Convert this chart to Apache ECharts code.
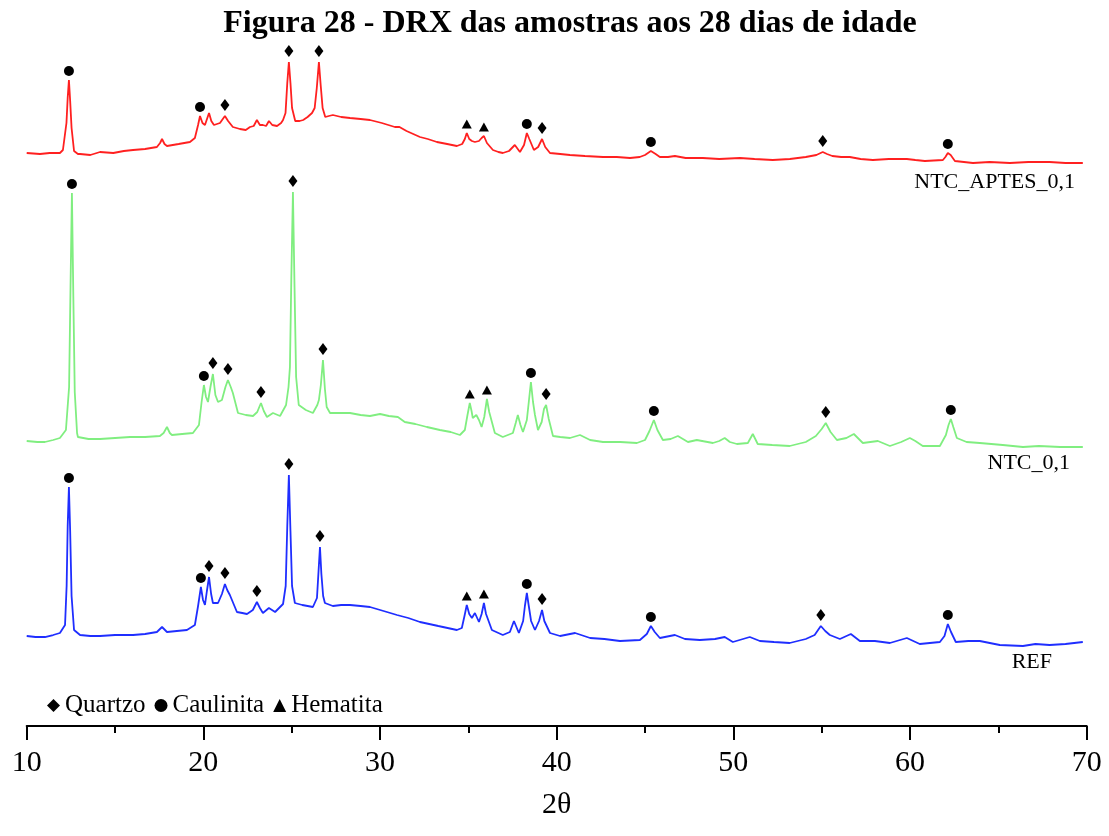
<!DOCTYPE html>
<html>
<head>
<meta charset="utf-8">
<title>DRX 28 dias</title>
<script src="https://cdn.jsdelivr.net/npm/echarts@6/dist/echarts.min.js"></script>
<style>
  html, body { margin: 0; padding: 0; background: #ffffff; }
  #chart { width: 1109px; height: 836px; }
</style>
</head>
<body>
<div id="chart"></div>
<script>
// Diffractograms: [2θ, intensity (a.u.)], each pattern read from its own baseline
const refPattern = [[10.0,10],[10.5,9],[11.03,9],[11.5,11],[11.88,13],[12.17,21],[12.26,60],[12.32,120],[12.39,159],[12.46,115],[12.54,50],[12.68,16],[13.02,11],[13.6,10],[14.15,10],[15.0,11],[16.02,11],[16.7,12],[17.37,14],[17.66,19],[17.94,14],[18.5,15],[19.07,16],[19.52,21],[19.7,40],[19.86,59],[19.98,46],[20.09,41],[20.2,55],[20.32,69],[20.44,52],[20.54,43],[20.83,43],[21.05,52],[21.22,62],[21.35,56],[21.5,51],[21.9,34],[22.2,33],[22.47,32],[22.8,36],[23.03,44],[23.2,38],[23.37,33],[23.71,38],[24.06,34],[24.51,42],[24.66,60],[24.75,120],[24.84,171],[24.93,115],[25.02,60],[25.18,43],[25.6,41],[26.2,39],[26.43,48],[26.52,75],[26.6,99],[26.68,72],[26.78,50],[26.88,43],[27.33,40],[27.8,41],[28.3,41],[28.9,40],[29.43,39],[30.2,35],[30.96,31],[31.6,28],[32.26,24],[33.3,20],[34.35,16],[34.63,18],[34.78,30],[34.91,41],[35.05,32],[35.2,28],[35.37,33],[35.6,24],[35.75,32],[35.88,43],[36.0,32],[36.33,16],[36.95,11],[37.35,14],[37.58,25],[37.86,13],[38.1,25],[38.2,40],[38.31,53],[38.42,40],[38.55,25],[38.77,16],[39.0,25],[39.17,36],[39.3,25],[39.62,13],[40.19,10],[41.04,13],[41.89,8],[42.7,7],[43.58,5],[44.71,6],[45.1,12],[45.33,20],[45.55,14],[45.84,8],[46.69,11],[47.26,7],[48.1,6],[48.96,7],[49.51,9],[49.97,4],[50.93,9],[51.5,5],[52.3,4],[53.19,3],[54.1,7],[54.6,11],[54.95,20],[55.2,15],[55.46,11],[56.03,7],[56.65,12],[57.16,5],[58.01,5],[58.86,3],[59.82,8],[60.55,2],[61.69,4],[61.95,10],[62.14,22],[62.32,14],[62.59,4],[63.3,5],[63.95,5],[65.08,1],[66.39,0],[67.1,2],[67.9,1],[68.8,2],[69.78,4]];

const ntcPattern = [[10.0,6],[10.6,5],[11.03,5],[11.5,7],[11.88,9],[12.22,17],[12.4,60],[12.48,160],[12.56,254],[12.64,150],[12.72,55],[12.85,14],[12.9,10],[13.5,8],[14.15,8],[15.0,9],[15.85,10],[16.7,10],[17.54,11],[17.75,14],[17.94,20],[18.1,14],[18.22,12],[18.8,13],[19.41,14],[19.75,22],[19.9,45],[20.03,62],[20.15,50],[20.26,45],[20.4,60],[20.54,73],[20.68,52],[20.83,45],[21.05,47],[21.25,60],[21.39,67],[21.55,60],[21.67,54],[21.96,34],[22.4,32],[22.81,31],[23.05,35],[23.26,44],[23.42,36],[23.6,30],[23.94,34],[24.34,31],[24.68,42],[24.82,60],[24.9,80],[24.98,170],[25.07,255],[25.16,160],[25.25,70],[25.4,42],[25.47,40],[25.8,37],[26.2,34],[26.45,42],[26.54,47],[26.65,62],[26.77,87],[26.88,58],[26.98,40],[27.17,34],[27.7,34],[28.3,34],[28.9,32],[29.43,31],[30.0,33],[30.5,31],[31.01,30],[31.4,25],[32.0,23],[32.65,20],[33.39,17],[34.0,15],[34.52,12],[34.8,17],[34.95,32],[35.08,44],[35.18,36],[35.25,29],[35.45,32],[35.6,27],[35.75,20],[35.9,30],[36.05,48],[36.18,35],[36.5,14],[36.95,10],[37.52,14],[37.68,24],[37.8,32],[37.95,22],[38.09,15],[38.31,27],[38.42,45],[38.54,65],[38.66,45],[38.77,32],[38.94,17],[39.15,25],[39.28,38],[39.4,42],[39.55,28],[39.79,11],[40.2,10],[40.75,9],[41.32,12],[41.89,7],[42.62,5],[43.6,5],[44.54,4],[45.0,7],[45.25,16],[45.5,27],[45.7,17],[46.01,7],[46.45,8],[46.86,11],[47.43,5],[47.93,7],[48.84,4],[49.2,6],[49.51,9],[49.8,5],[50.2,3],[50.82,4],[51.1,13],[51.38,3],[52.2,2],[53.19,1],[54.1,5],[54.67,11],[55.0,18],[55.23,24],[55.5,15],[55.86,7],[56.4,9],[56.82,13],[57.33,4],[57.75,5],[58.18,6],[58.86,1],[59.5,5],[59.99,9],[60.3,6],[60.72,1],[61.69,1],[62.03,12],[62.18,22],[62.31,28],[62.45,20],[62.65,9],[63.2,5],[63.95,4],[64.6,3],[65.25,2],[66.39,0],[67.3,1],[68.5,0],[69.78,0]];

const aptesPattern = [[10.0,10],[10.75,9],[11.3,10],[11.88,10],[12.05,13],[12.25,40],[12.32,65],[12.39,83],[12.46,62],[12.54,35],[12.68,12],[12.9,9],[13.02,9],[13.6,8],[14.15,11],[14.9,10],[15.5,12],[16.02,13],[16.7,14],[17.37,16],[17.55,20],[17.66,24],[17.8,19],[17.94,17],[18.6,19],[19.24,21],[19.52,25],[19.7,38],[19.81,47],[19.95,40],[20.09,38],[20.32,50],[20.45,42],[20.6,38],[20.94,40],[21.22,47],[21.4,42],[21.67,36],[22.07,34],[22.4,33],[22.64,36],[22.85,37],[23.03,43],[23.2,38],[23.37,38],[23.55,37],[23.71,42],[23.9,38],[24.17,37],[24.4,40],[24.51,43],[24.65,50],[24.75,80],[24.84,101],[24.93,80],[25.02,55],[25.2,42],[25.45,42],[25.65,43],[25.9,46],[26.15,50],[26.3,55],[26.42,75],[26.54,101],[26.64,78],[26.75,55],[26.9,46],[27.1,47],[27.33,48],[27.8,46],[28.3,45],[28.9,44],[29.43,43],[30.1,40],[30.84,36],[31.1,36],[31.5,32],[32.26,26],[32.7,24],[33.22,21],[33.8,19],[34.35,17],[34.65,19],[34.8,24],[34.91,30],[35.05,24],[35.2,22],[35.37,21],[35.6,22],[35.75,25],[35.88,27],[36.05,20],[36.39,13],[36.7,11],[36.95,10],[37.3,12],[37.63,18],[37.92,11],[38.15,18],[38.31,30],[38.45,24],[38.71,13],[38.95,16],[39.17,24],[39.35,16],[39.62,10],[40.2,9],[40.75,8],[41.6,7],[42.62,6],[43.4,6],[44.15,5],[44.7,6],[45.0,8],[45.33,12],[45.6,9],[45.84,6],[46.3,6],[46.69,7],[47.3,5],[48.27,5],[49.2,4],[50.37,5],[51.2,4],[52.23,3],[53.2,4],[54.1,6],[54.7,8],[55.06,11],[55.3,9],[55.6,7],[56.1,6],[56.59,6],[57.2,4],[57.9,3],[58.8,4],[59.82,4],[60.3,3],[60.84,2],[61.86,3],[62.0,6],[62.14,10],[62.3,8],[62.54,2],[63.56,0],[64.5,1],[65.65,0],[66.7,1],[67.9,1],[68.8,0],[69.78,0]];

// Identified phases per pattern: [2θ, phase] (Q = Quartzo, C = Caulinita, H = Hematita)
const refPeaks = [[12.39,'C'],[19.86,'C'],[20.32,'Q'],[21.22,'Q'],[23.03,'Q'],[24.84,'Q'],[26.6,'Q'],[34.91,'H'],[35.88,'H'],[38.31,'C'],[39.17,'Q'],[45.33,'C'],[54.95,'Q'],[62.14,'C']];
const ntcPeaks = [[12.56,'C'],[20.03,'C'],[20.54,'Q'],[21.39,'Q'],[23.26,'Q'],[25.07,'Q'],[26.77,'Q'],[35.08,'H'],[36.05,'H'],[38.54,'C'],[39.4,'Q'],[45.5,'C'],[55.23,'Q'],[62.31,'C']];
const aptesPeaks = [[12.39,'C'],[19.81,'C'],[21.22,'Q'],[24.84,'Q'],[26.54,'Q'],[34.91,'H'],[35.88,'H'],[38.31,'C'],[39.17,'Q'],[45.33,'C'],[55.06,'Q'],[62.14,'C']];

const sampleNames = ['REF', 'NTC_0,1', 'NTC_APTES_0,1'];
const sampleOffsets = [80, 279, 563];          // vertical stacking of the patterns
const sampleColors = ['#1f2eff', '#80ee80', '#ff2020'];
const phaseNames = { Q: 'Quartzo', C: 'Caulinita', H: 'Hematita' };
const xTicks = [10, 20, 30, 40, 50, 60, 70];

const patterns = [refPattern, ntcPattern, aptesPattern];
const peaks = [refPeaks, ntcPeaks, aptesPeaks];

const SERIF = "'Liberation Serif', 'Times New Roman', 'DejaVu Serif', serif";
const phaseSymbol = {
  Q: { symbol: 'diamond', size: [9, 12], gap: 11 },
  C: { symbol: 'circle', size: 10, gap: 9 },
  H: { symbol: 'triangle', size: [10, 9], gap: 9 }
};

// local maximum of a pattern around a given 2θ
function peakHeight(pattern, theta) {
  let best = -Infinity;
  pattern.forEach(([t, v]) => { if (Math.abs(t - theta) <= 0.15 && v > best) best = v; });
  return best;
}

const lineSeries = patterns.map((p, i) => ({
  name: sampleNames[i],
  type: 'line',
  data: p.map(([t, v]) => [t, v + sampleOffsets[i]]),
  showSymbol: false,
  symbol: 'none',
  smooth: false,
  lineStyle: { color: sampleColors[i], width: 1.8 },
  itemStyle: { color: sampleColors[i] },
  silent: true,
  z: 2
}));

const markerSeries = ['Q', 'C', 'H'].map(code => {
  const data = [];
  peaks.forEach((list, i) => {
    list.forEach(([t, ph]) => {
      if (ph !== code) return;
      const h = peakHeight(patterns[i], t);
      data.push([t, h + sampleOffsets[i] + phaseSymbol[code].gap]);
    });
  });
  return {
    name: phaseNames[code],
    type: 'scatter',
    data: data,
    symbol: phaseSymbol[code].symbol,
    symbolSize: phaseSymbol[code].size,
    itemStyle: { color: '#000000', opacity: 1 },
    silent: true,
    z: 3
  };
});

const chart = echarts.init(document.getElementById('chart'), null, { renderer: 'canvas' });

chart.setOption({
  backgroundColor: '#ffffff',
  animation: false,
  title: {
    text: 'Figura 28 - DRX das amostras aos 28 dias de idade',
    left: 565,
    textAlign: 'center',
    top: 3,
    textStyle: { fontFamily: SERIF, fontWeight: 'bold', fontSize: 32, color: '#000000' }
  },
  legend: {
    data: [
      { name: 'Quartzo', icon: 'diamond', itemStyle: { color: '#000000', opacity: 1 } },
      { name: 'Caulinita', icon: 'circle', itemStyle: { color: '#000000', opacity: 1 } },
      { name: 'Hematita', icon: 'triangle', itemStyle: { color: '#000000', opacity: 1 } }
    ],
    left: 42,
    top: 688,
    itemWidth: 13,
    itemHeight: 13,
    itemGap: 9,
    selectedMode: false,
    textStyle: { fontFamily: SERIF, fontSize: 25, color: '#000000' }
  },
  grid: { left: 26.7, right: 22.3, top: 0, bottom: 110, containLabel: false },
  xAxis: {
    type: 'value',
    min: xTicks[0],
    max: xTicks[xTicks.length - 1],
    interval: 10,
    name: '2θ',
    nameLocation: 'middle',
    nameGap: 64,
    nameTextStyle: { fontFamily: SERIF, fontSize: 30, color: '#000000' },
    axisLine: { show: true, onZero: false, lineStyle: { color: '#000000', width: 2 } },
    axisTick: { show: true, length: 14, lineStyle: { color: '#000000', width: 2 } },
    minorTick: { show: true, splitNumber: 2, length: 7, lineStyle: { color: '#000000', width: 2 } },
    splitLine: { show: false },
    axisLabel: { margin: 22, fontFamily: SERIF, fontSize: 30, color: '#000000' }
  },
  yAxis: {
    type: 'value',
    min: 0,
    max: 726,
    show: false,
    splitLine: { show: false }
  },
  graphic: sampleNames.map((name, i) => ({
    type: 'text',
    right: [57, 39, 34][i],
    top: [651, 452, 171][i],
    style: { text: name, font: '22px ' + SERIF, fill: '#000000' }
  })),
  series: lineSeries.concat(markerSeries)
});
</script>
</body>
</html>
